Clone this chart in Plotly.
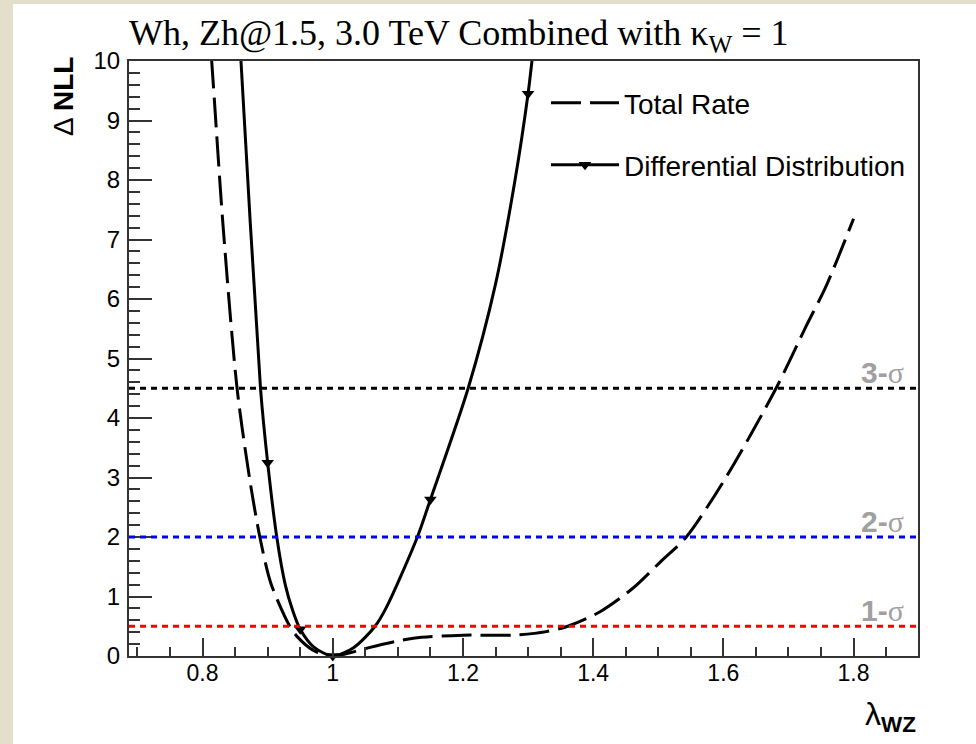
import plotly.graph_objects as go

# ---- data ----
total_x = [0.80, 0.814, 0.831, 0.853, 0.872, 0.888, 0.905, 0.934, 0.945, 0.971, 1.0,
           1.025, 1.052, 1.124, 1.2, 1.277, 1.328, 1.361, 1.41, 1.46, 1.505, 1.543, 1.605,
           1.681, 1.727, 1.758, 1.80]
total_y = [12.0, 10.0, 7.3, 4.5, 3.0, 2.0, 1.22, 0.5, 0.33, 0.09, 0.0,
           0.05, 0.13, 0.30, 0.35, 0.35, 0.41, 0.5, 0.74, 1.13, 1.6, 2.0, 3.02,
           4.5, 5.54, 6.22, 7.35]

diff_x = [0.85, 0.859, 0.889, 0.90, 0.914, 0.927, 0.938, 0.95, 0.971, 1.0, 1.032, 1.065,
          1.083, 1.13, 1.15, 1.208, 1.25, 1.28, 1.30, 1.306, 1.31]
diff_y = [11.6, 10.0, 4.5, 3.25, 2.0, 1.2, 0.78, 0.45, 0.15, 0.0, 0.14, 0.5,
          0.83, 2.0, 2.63, 4.5, 6.25, 8.0, 9.45, 10.0, 10.4]

marker_x = [0.90, 0.95, 1.0, 1.15, 1.30]
marker_y = [3.25, 0.45, 0.0, 2.63, 9.45]

sigma_levels = [0.5, 2.0, 4.5]
sigma_colors = ["#ff0000", "#0000ff", "#000000"]
sigma_labels = ["1-", "2-", "3-"]

x_range = [0.687, 1.899]
y_range = [0, 10]

SANS = "Liberation Sans, Arial, Helvetica, sans-serif"
SERIF = "Liberation Serif, Times New Roman, serif"

fig = go.Figure()

# Total Rate (long dashes)
fig.add_trace(go.Scatter(
    x=total_x, y=total_y, mode="lines", name="Total Rate",
    line=dict(color="black", width=3, dash="30px,9px", shape="spline", smoothing=0.8),
    legend="legend",
))

# Differential Distribution curve
fig.add_trace(go.Scatter(
    x=diff_x, y=diff_y, mode="lines", showlegend=False,
    line=dict(color="black", width=3, shape="spline", smoothing=0.8),
))
fig.add_trace(go.Scatter(
    x=marker_x, y=marker_y, mode="markers", showlegend=False, cliponaxis=False,
    marker=dict(symbol="triangle-down", size=11, color="black"),
))
# legend entry for Differential Distribution
fig.add_trace(go.Scatter(
    x=[None], y=[None], mode="lines+markers", name="Differential Distribution",
    line=dict(color="black", width=3),
    marker=dict(symbol="triangle-down", size=11, color="black"),
    legend="legend2",
))

# sigma lines and labels
for lvl, col, lab in zip(sigma_levels, sigma_colors, sigma_labels):
    fig.add_shape(type="line", xref="paper", x0=0, x1=1, yref="y", y0=lvl, y1=lvl,
                  line=dict(color=col, width=3, dash="6px,5px"))
    fig.add_annotation(
        xref="x", yref="y", x=1.881, y=lvl, xanchor="right", yanchor="bottom",
        text="<b>" + lab + "</b><span style='font-family:Liberation Serif'>σ</span>",
        showarrow=False, font=dict(family=SANS, size=30, color="#a0a0a0"),
        yshift=-3,
    )

# beige strips at window edges
fig.add_shape(type="rect", xref="paper", yref="paper", x0=-1, x1=(13 - 129) / 789,
              y0=-1, y1=2, fillcolor="#e3dfcb", line=dict(width=0), layer="below")
fig.add_shape(type="rect", xref="paper", yref="paper", x0=-1, x1=2,
              y0=1 + (61 - 4) / 595, y1=2, fillcolor="#e3dfcb", line=dict(width=0),
              layer="below")

# title
fig.add_annotation(
    xref="paper", yref="paper", x=-0.003, y=1 + (61 - 36) / 595,
    xanchor="left", yanchor="middle", showarrow=False,
    text="Wh, Zh@1.5, 3.0 TeV Combined with κ<sub>W</sub> = 1",
    font=dict(family=SERIF, size=36, color="black"),
)
# y axis title
fig.add_annotation(
    xref="paper", yref="paper", x=(63 - 129) / 789, y=1 - (97 - 61) / 595,
    xanchor="center", yanchor="middle", showarrow=False, textangle=-90,
    text="Δ <b>NLL</b>", font=dict(family=SANS, size=28, color="black"),
)
# x axis title
fig.add_annotation(
    xref="paper", yref="paper", x=1.0, y=(656 - 716) / 595,
    xanchor="right", yanchor="middle", showarrow=False,
    text="λ<sub><b>WZ</b></sub>", font=dict(family=SANS, size=32, color="black"),
)

axis_common = dict(
    showline=True, mirror=True, linecolor="#333333", linewidth=2,
    showgrid=False, zeroline=False, ticks="inside", tickcolor="#333333",
    tickwidth=1.5,
)

fig.update_xaxes(range=x_range, dtick=0.2, tick0=0, ticklen=18,
                 ticklabelstandoff=-5,
                 tickfont=dict(family=SANS, size=23, color="black"),
                 minor=dict(dtick=0.05, tick0=0, ticklen=9, ticks="inside",
                            tickcolor="#333333", tickwidth=1.5),
                 **axis_common)
fig.update_yaxes(range=y_range, dtick=1, tick0=0, ticklen=23,
                 tickfont=dict(family=SANS, size=24, color="black"),
                 ticklabelstandoff=2,
                 minor=dict(dtick=0.2, tick0=0, ticklen=11, ticks="inside",
                            tickcolor="#333333", tickwidth=1.5),
                 **axis_common)

fig.update_layout(
    width=976, height=744,
    margin=dict(l=129, r=58, t=61, b=88),
    paper_bgcolor="white", plot_bgcolor="white",
    showlegend=True,
    legend=dict(x=(546 - 129) / 789, y=1 - (103 - 61) / 595, xanchor="left",
                yanchor="middle", bgcolor="rgba(0,0,0,0)", itemwidth=68,
                font=dict(family=SANS, size=28, color="black")),
    legend2=dict(x=(546 - 129) / 789, y=1 - (165 - 61) / 595, xanchor="left",
                 yanchor="middle", bgcolor="rgba(0,0,0,0)", itemwidth=68,
                 font=dict(family=SANS, size=28, color="black")),
)

fig.write_html("out.html", config={"displayModeBar": False},
               post_script="document.body.style.margin='0px';document.body.style.padding='0px';")
